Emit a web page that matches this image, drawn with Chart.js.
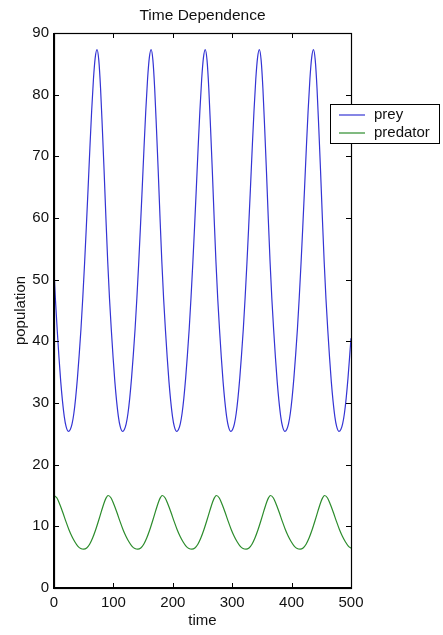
<!DOCTYPE html>
<html>
<head>
<meta charset="utf-8">
<script src="https://cdn.jsdelivr.net/npm/chart.js@4.4.1/dist/chart.umd.min.js"></script>
<style>
  body { margin: 0; background: #fff; }
  canvas { display: block; }
</style>
</head>
<body>
<canvas id="chart" width="443" height="635"></canvas>
<script>
// values
const preyTime = [
  0, 2.3, 5.3, 8.3, 11.3, 14.3, 17.3, 20.3, 24.1,
  27.4, 30.4, 33.4, 36.4, 39.4, 42.4, 45.4, 48.4, 51.4, 54.4, 57.4, 60.4, 63.4, 66.4, 69.4, 72.4,
  75.4, 78.4, 81.4, 84.4, 87.4, 90.4, 93.4, 96.4, 99.4, 102.4, 105.4, 108.4, 111.4, 115.2,
  118.5, 121.5, 124.5, 127.5, 130.5, 133.5, 136.5, 139.5, 142.5, 145.5, 148.5, 151.5, 154.5, 157.5, 160.5, 163.5,
  166.5, 169.5, 172.5, 175.5, 178.5, 181.5, 184.5, 187.5, 190.5, 193.5, 196.5, 199.5, 202.5, 206.3,
  209.6, 212.6, 215.6, 218.6, 221.6, 224.6, 227.6, 230.6, 233.6, 236.6, 239.6, 242.6, 245.6, 248.6, 251.6, 254.6,
  257.6, 260.6, 263.6, 266.6, 269.6, 272.6, 275.6, 278.6, 281.6, 284.6, 287.6, 290.6, 293.6, 297.4,
  300.7, 303.7, 306.7, 309.7, 312.7, 315.7, 318.7, 321.7, 324.7, 327.7, 330.7, 333.7, 336.7, 339.7, 342.7, 345.7,
  348.7, 351.7, 354.7, 357.7, 360.7, 363.7, 366.7, 369.7, 372.7, 375.7, 378.7, 381.7, 384.7, 388.5,
  391.8, 394.8, 397.8, 400.8, 403.8, 406.8, 409.8, 412.8, 415.8, 418.8, 421.8, 424.8, 427.8, 430.8, 433.8, 436.8,
  439.8, 442.8, 445.8, 448.8, 451.8, 454.8, 457.8, 460.8, 463.8, 466.8, 469.8, 472.8, 475.8, 479.6,
  482.9, 485.9, 488.9, 491.9, 494.9, 497.9, 500
];
const preyPop = [
  51.5, 47, 42, 37.5, 33.5, 30.3, 27.8, 26.2, 25.4,
  25.7, 26.6, 28.3, 30.8, 34, 37.8, 42, 47, 52.5, 58.5, 64.8, 71.3, 77.4, 82.5, 86, 87.3,
  85.6, 81, 74.5, 67.5, 60, 53, 47, 42, 37.5, 33.5, 30.3, 27.8, 26.2, 25.4,
  25.7, 26.6, 28.3, 30.8, 34, 37.8, 42, 47, 52.5, 58.5, 64.8, 71.3, 77.4, 82.5, 86, 87.3,
  85.6, 81, 74.5, 67.5, 60, 53, 47, 42, 37.5, 33.5, 30.3, 27.8, 26.2, 25.4,
  25.7, 26.6, 28.3, 30.8, 34, 37.8, 42, 47, 52.5, 58.5, 64.8, 71.3, 77.4, 82.5, 86, 87.3,
  85.6, 81, 74.5, 67.5, 60, 53, 47, 42, 37.5, 33.5, 30.3, 27.8, 26.2, 25.4,
  25.7, 26.6, 28.3, 30.8, 34, 37.8, 42, 47, 52.5, 58.5, 64.8, 71.3, 77.4, 82.5, 86, 87.3,
  85.6, 81, 74.5, 67.5, 60, 53, 47, 42, 37.5, 33.5, 30.3, 27.8, 26.2, 25.4,
  25.7, 26.6, 28.3, 30.8, 34, 37.8, 42, 47, 52.5, 58.5, 64.8, 71.3, 77.4, 82.5, 86, 87.3,
  85.6, 81, 74.5, 67.5, 60, 53, 47, 42, 37.5, 33.5, 30.3, 27.8, 26.2, 25.4,
  25.7, 26.6, 28.3, 30.8, 34, 37.8, 40.5
];

const predTime = [
  0, 5, 10, 15, 20, 25, 30, 35, 40, 45, 50, 55, 60, 65, 70, 75, 80, 85, 88,
  91.1, 96.1, 101.1, 106.1, 111.1, 116.1, 121.1, 126.1, 131.1, 136.1, 141.1, 146.1, 151.1, 156.1, 161.1, 166.1, 171.1, 176.1, 179.1,
  182.2, 187.2, 192.2, 197.2, 202.2, 207.2, 212.2, 217.2, 222.2, 227.2, 232.2, 237.2, 242.2, 247.2, 252.2, 257.2, 262.2, 267.2, 270.2,
  273.3, 278.3, 283.3, 288.3, 293.3, 298.3, 303.3, 308.3, 313.3, 318.3, 323.3, 328.3, 333.3, 338.3, 343.3, 348.3, 353.3, 358.3, 361.3,
  364.4, 369.4, 374.4, 379.4, 384.4, 389.4, 394.4, 399.4, 404.4, 409.4, 414.4, 419.4, 424.4, 429.4, 434.4, 439.4, 444.4, 449.4, 452.4,
  455.5, 460.5, 465.5, 470.5, 475.5, 480.5, 485.5, 490.5, 495.5, 500
];
const predPop = [
  15, 14.6, 13.5, 12.2, 10.8, 9.5, 8.4, 7.5, 6.8, 6.4, 6.3, 6.5, 7.1, 8.1, 9.4, 10.9, 12.5, 14, 14.65,
  15, 14.6, 13.5, 12.2, 10.8, 9.5, 8.4, 7.5, 6.8, 6.4, 6.3, 6.5, 7.1, 8.1, 9.4, 10.9, 12.5, 14, 14.65,
  15, 14.6, 13.5, 12.2, 10.8, 9.5, 8.4, 7.5, 6.8, 6.4, 6.3, 6.5, 7.1, 8.1, 9.4, 10.9, 12.5, 14, 14.65,
  15, 14.6, 13.5, 12.2, 10.8, 9.5, 8.4, 7.5, 6.8, 6.4, 6.3, 6.5, 7.1, 8.1, 9.4, 10.9, 12.5, 14, 14.65,
  15, 14.6, 13.5, 12.2, 10.8, 9.5, 8.4, 7.5, 6.8, 6.4, 6.3, 6.5, 7.1, 8.1, 9.4, 10.9, 12.5, 14, 14.65,
  15, 14.6, 13.5, 12.2, 10.8, 9.5, 8.4, 7.5, 6.8, 6.45
];

const seriesNames = ['prey', 'predator'];
const seriesColors = ['rgb(52,52,212)', 'rgb(44,140,44)'];

const FONT = "'Liberation Sans', Arial, Helvetica, sans-serif";

const toPoints = (xs, ys) => xs.map((t, i) => ({ x: t, y: ys[i] }));

// box, inward ticks, title and legend the way the original plot has them
const matlabFrame = {
  id: 'matlabFrame',
  afterDraw(chart) {
    const { ctx, chartArea: a, scales: { x, y } } = chart;
    ctx.save();
    ctx.strokeStyle = '#000';
    ctx.lineWidth = 1;
    ctx.beginPath();
    x.ticks.forEach(t => {
      const px = Math.round(x.getPixelForValue(t.value)) + 0.5;
      ctx.moveTo(px, a.bottom); ctx.lineTo(px, a.bottom - 5);
      ctx.moveTo(px, a.top); ctx.lineTo(px, a.top + 5);
    });
    y.ticks.forEach(t => {
      const py = Math.round(y.getPixelForValue(t.value)) + 0.5;
      ctx.moveTo(a.left, py); ctx.lineTo(a.left + 5, py);
      ctx.moveTo(a.right, py); ctx.lineTo(a.right - 5, py);
    });
    ctx.stroke();

    ctx.lineWidth = 1.2;
    ctx.strokeRect(a.left + 0.5, a.top + 0.5, a.right - a.left, a.bottom - a.top);
    ctx.lineWidth = 2;
    ctx.beginPath();
    ctx.moveTo(a.left, a.top); ctx.lineTo(a.left, a.bottom); ctx.lineTo(a.right, a.bottom);
    ctx.stroke();

    // title
    ctx.fillStyle = '#111';
    ctx.font = '15.5px ' + FONT;
    ctx.textAlign = 'center';
    ctx.textBaseline = 'middle';
    ctx.fillText('Time Dependence', (a.left + a.right) / 2, 16);

    // legend
    const lx = 330.5, ly = 104.5, lw = 109, lh = 39;
    ctx.fillStyle = '#fff';
    ctx.fillRect(lx, ly, lw, lh);
    ctx.lineWidth = 1;
    ctx.strokeStyle = '#000';
    ctx.strokeRect(lx, ly, lw, lh);
    ctx.font = '15px ' + FONT;
    ctx.textAlign = 'left';
    seriesNames.forEach((name, i) => {
      const yy = 115 + i * 18;
      ctx.strokeStyle = seriesColors[i];
      ctx.lineWidth = 1.2;
      ctx.beginPath();
      ctx.moveTo(339, yy); ctx.lineTo(365, yy);
      ctx.stroke();
      ctx.fillStyle = '#111';
      ctx.fillText(name, 374, yy);
    });
    ctx.restore();
  }
};

new Chart(document.getElementById('chart'), {
  type: 'line',
  data: {
    datasets: [
      {
        label: seriesNames[0],
        data: toPoints(preyTime, preyPop),
        borderColor: seriesColors[0],
        borderWidth: 1.2,
        pointRadius: 0,
        cubicInterpolationMode: 'monotone',
      },
      {
        label: seriesNames[1],
        data: toPoints(predTime, predPop),
        borderColor: seriesColors[1],
        borderWidth: 1.2,
        pointRadius: 0,
        cubicInterpolationMode: 'monotone',
      }
    ]
  },
  options: {
    responsive: false,
    animation: false,
    events: [],
    layout: { padding: { top: 33, right: 92, left: 0, bottom: 0 } },
    plugins: {
      legend: { display: false },
      title: { display: false },
      tooltip: { enabled: false }
    },
    scales: {
      x: {
        type: 'linear',
        min: 0,
        max: 500,
        grid: { display: false, drawTicks: false },
        border: { display: false },
        ticks: { stepSize: 100, padding: 6, color: '#111', font: { family: FONT, size: 15 }, maxRotation: 0 },
        title: { display: true, text: 'time', color: '#111', font: { family: FONT, size: 15 }, padding: { top: 0, bottom: 5 } },
        afterFit(scale) { scale.height = 47; }
      },
      y: {
        min: 0,
        max: 90,
        grid: { display: false, drawTicks: false },
        border: { display: false },
        ticks: { stepSize: 10, padding: 5, color: '#111', font: { family: FONT, size: 15 } },
        title: { display: true, text: 'population', color: '#111', font: { family: FONT, size: 15 }, padding: { top: 12, bottom: 0 } },
        afterFit(scale) { scale.width = 54; }
      }
    }
  },
  plugins: [matlabFrame]
});
</script>
</body>
</html>
